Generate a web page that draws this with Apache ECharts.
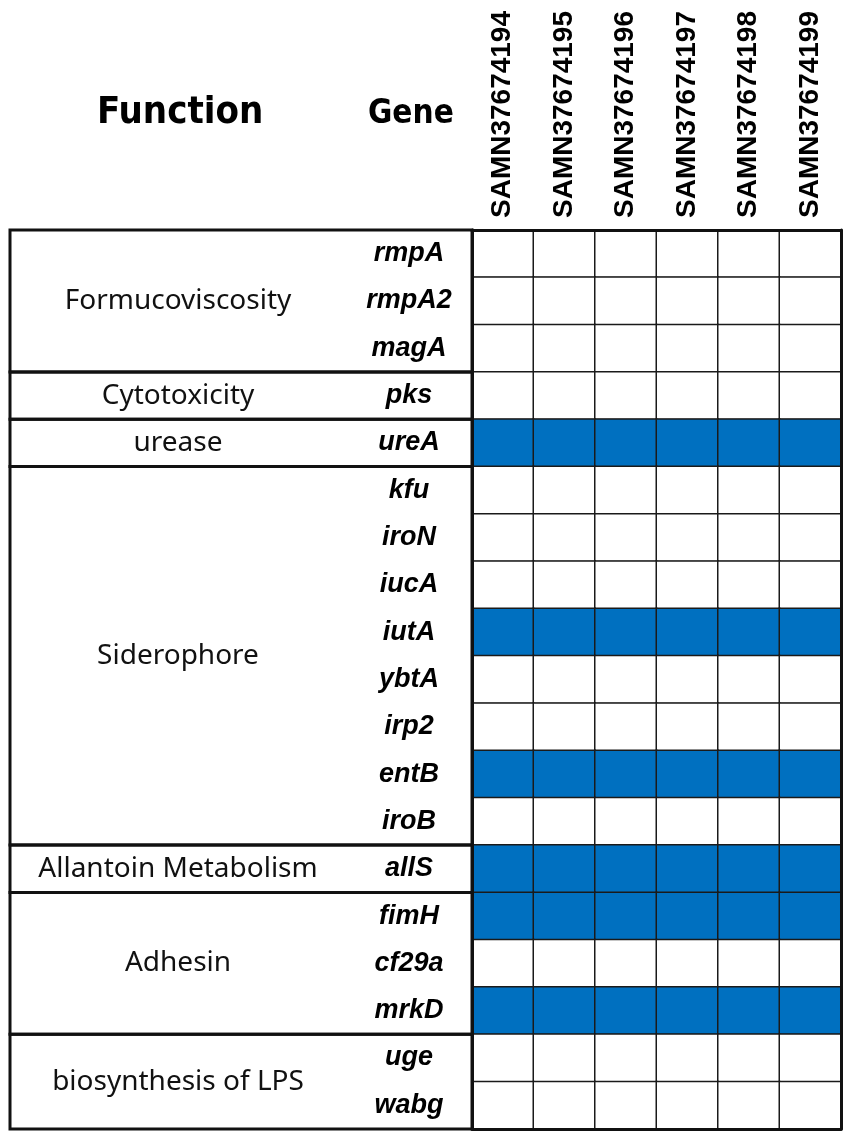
<!DOCTYPE html>
<html>
<head>
<meta charset="utf-8">
<script src="https://cdn.jsdelivr.net/npm/echarts@6/dist/echarts.min.js"></script>
<style>
  html, body { margin: 0; padding: 0; background: #fff; }
  #chart { width: 851px; height: 1138px; }
</style>
</head>
<body>
<div id="chart"></div>
<script>
// samples (columns)
const samples = ['SAMN37674194', 'SAMN37674195', 'SAMN37674196', 'SAMN37674197', 'SAMN37674198', 'SAMN37674199'];

// genes (rows, top to bottom)
const genes = ['rmpA', 'rmpA2', 'magA', 'pks', 'ureA', 'kfu', 'iroN', 'iucA', 'iutA', 'ybtA',
  'irp2', 'entB', 'iroB', 'allS', 'fimH', 'cf29a', 'mrkD', 'uge', 'wabg'];

// function groups and how many gene rows each one spans
const groupNames = ['Formucoviscosity', 'Cytotoxicity', 'urease', 'Siderophore',
  'Allantoin Metabolism', 'Adhesin', 'biosynthesis of LPS'];
const groupSizes = [3, 1, 1, 8, 1, 3, 2];

// presence (1) / absence (0), one row per gene, one value per sample
const presence = [
  [0, 0, 0, 0, 0, 0], // rmpA
  [0, 0, 0, 0, 0, 0], // rmpA2
  [0, 0, 0, 0, 0, 0], // magA
  [0, 0, 0, 0, 0, 0], // pks
  [1, 1, 1, 1, 1, 1], // ureA
  [0, 0, 0, 0, 0, 0], // kfu
  [0, 0, 0, 0, 0, 0], // iroN
  [0, 0, 0, 0, 0, 0], // iucA
  [1, 1, 1, 1, 1, 1], // iutA
  [0, 0, 0, 0, 0, 0], // ybtA
  [0, 0, 0, 0, 0, 0], // irp2
  [1, 1, 1, 1, 1, 1], // entB
  [0, 0, 0, 0, 0, 0], // iroB
  [1, 1, 1, 1, 1, 1], // allS
  [1, 1, 1, 1, 1, 1], // fimH
  [0, 0, 0, 0, 0, 0], // cf29a
  [1, 1, 1, 1, 1, 1], // mrkD
  [0, 0, 0, 0, 0, 0], // uge
  [0, 0, 0, 0, 0, 0]  // wabg
];

const chart = echarts.init(document.getElementById('chart'));

// heatmap cells [x, y, value]
const cells = [];
presence.forEach((row, gi) => row.forEach((v, si) => cells.push([si, gi, v])));

// group blocks [startRow, endRow, name]
const blocks = [];
let acc = 0;
groupSizes.forEach((n, i) => { blocks.push([acc, acc + n, groupNames[i]]); acc += n; });

const narrow = '"DejaVu Sans Condensed", "Liberation Sans", sans-serif';
const lineAxis = { show: true, lineStyle: { color: '#111', width: 3 } };

const option = {
  animation: false,
  backgroundColor: '#fff',
  grid: [
    { left: 472, right: 10, top: 230, bottom: 9 },
    { left: 10, width: 462, top: 230, bottom: 9 }
  ],
  graphic: [
    { type: 'text', left: 97, top: 94,
      style: { text: 'Function', font: 'bold 38px ' + narrow, fill: '#000' } },
    { type: 'text', left: 368, top: 98,
      style: { text: 'Gene', font: 'bold 33px ' + narrow, fill: '#000' } }
  ],
  xAxis: [
    {
      type: 'category', data: samples, gridIndex: 0, position: 'top', z: 10,
      axisLine: lineAxis, axisTick: { show: false }, splitLine: { show: false },
      axisLabel: { rotate: -90, margin: 12, fontSize: 28, fontWeight: 'bold',
        fontFamily: 'Liberation Sans', color: '#000' }
    },
    {
      type: 'category', data: samples, gridIndex: 0, position: 'bottom', z: 10,
      axisLine: lineAxis, axisTick: { show: false }, axisLabel: { show: false }
    },
    { type: 'value', gridIndex: 1, min: 0, max: 1, show: false }
  ],
  yAxis: [
    {
      type: 'category', data: genes, gridIndex: 0, inverse: true, position: 'left', z: 10,
      axisLine: lineAxis, axisTick: { show: false }, splitLine: { show: false },
      axisLabel: { align: 'center', margin: 63, fontSize: 27, fontWeight: 'bold',
        fontStyle: 'italic', fontFamily: 'Liberation Sans', color: '#000' }
    },
    {
      type: 'category', data: genes, gridIndex: 0, inverse: true, position: 'right', z: 10,
      axisLine: lineAxis, axisTick: { show: false }, axisLabel: { show: false }
    },
    { type: 'value', gridIndex: 1, min: 0, max: genes.length, inverse: true, show: false }
  ],
  visualMap: {
    show: false, type: 'piecewise', seriesIndex: 0, dimension: 2,
    pieces: [{ value: 0, color: '#ffffff' }, { value: 1, color: '#0070C0' }]
  },
  series: [
    {
      type: 'heatmap', xAxisIndex: 0, yAxisIndex: 0, data: cells,
      itemStyle: { borderColor: '#1a1a1a', borderWidth: 1.5 },
      emphasis: { disabled: true }
    },
    {
      type: 'custom', xAxisIndex: 2, yAxisIndex: 2, data: blocks, silent: true,
      renderItem: function (params, api) {
        const p0 = api.coord([0, api.value(0)]);
        const p1 = api.coord([1, api.value(1)]);
        return {
          type: 'group',
          children: [
            { type: 'rect',
              shape: { x: p0[0], y: p0[1], width: p1[0] - p0[0], height: p1[1] - p0[1] },
              style: { fill: 'none', stroke: '#111', lineWidth: 3 } },
            { type: 'text',
              style: { text: blocks[params.dataIndex][2], x: 178, y: (p0[1] + p1[1]) / 2,
                align: 'center', verticalAlign: 'middle',
                fontSize: 28, fontFamily: 'Noto Sans', fill: '#111' } }
          ]
        };
      }
    }
  ]
};

chart.setOption(option);
</script>
</body>
</html>
